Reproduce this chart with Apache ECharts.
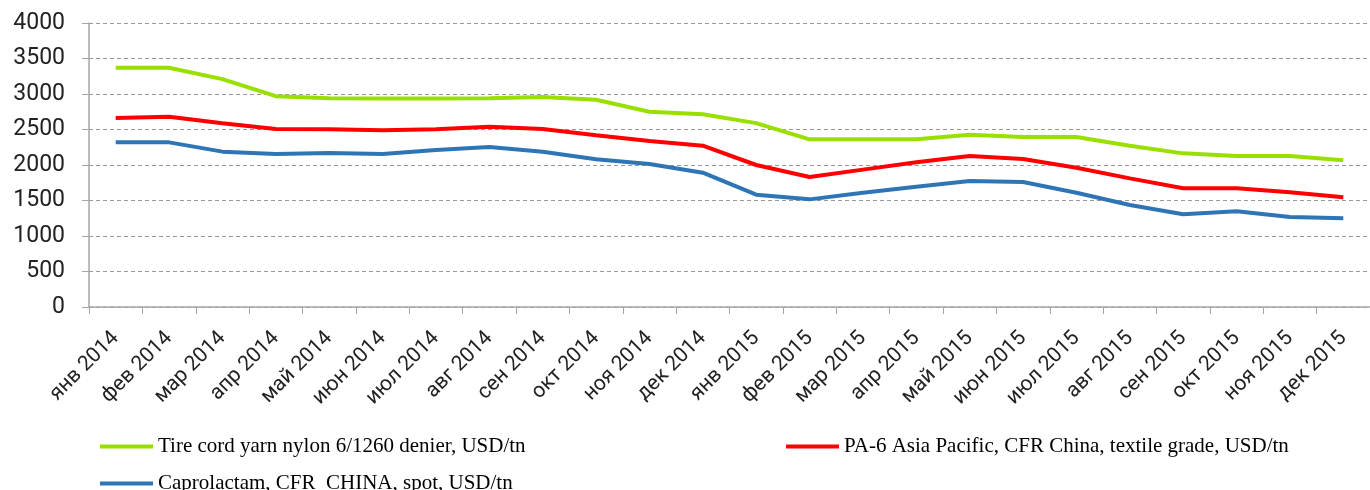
<!DOCTYPE html>
<html>
<head>
<meta charset="utf-8">
<script src="https://cdn.jsdelivr.net/npm/echarts@6/dist/echarts.min.js"></script>
<style>
    html, body {margin: 0; padding: 0; background: #fff;}
    #chart1 {width: 1370px; height: 490px;}
</style>
</head>
<body>
<div id="chart1"></div>
<script>
// месяцы
var months = ['янв 2014','фев 2014','мар 2014','апр 2014','май 2014','июн 2014','июл 2014','авг 2014',
    'сен 2014','окт 2014','ноя 2014','дек 2014','янв 2015','фев 2015','мар 2015','апр 2015',
    'май 2015','июн 2015','июл 2015','авг 2015','сен 2015','окт 2015','ноя 2015','дек 2015'];

var tireCord = [3370,3370,3210,2970,2940,2935,2935,2940,2958,2920,2750,2715,
    2590,2362,2362,2362,2427,2394,2394,2272,2164,2127,2127,2066];
var pa6 = [2662,2681,2587,2507,2502,2488,2502,2540,2507,2418,2338,2272,
    2000,1831,1935,2038,2127,2085,1962,1812,1672,1672,1615,1545];
var caprolactam = [2319,2319,2188,2155,2169,2155,2211,2254,2188,2080,2014,1892,
    1582,1516,1610,1695,1775,1761,1610,1437,1306,1348,1268,1249];

var names = ['Tire cord yarn nylon 6/1260 denier, USD/tn',
    'PA-6 Asia Pacific, CFR China, textile grade, USD/tn',
    'Caprolactam, CFR  CHINA, spot, USD/tn'];

var myChart1 = echarts.init(document.getElementById('chart1'));

var legendText = {fontFamily: '"Liberation Serif", serif', fontSize: 21, color: '#000'};

var option = {
    backgroundColor: '#fff',
    animation: false,
    grid: {left: 89, right: -6, top: 23, bottom: 183},
    legend: [
        {data: [names[0]], left: 95, top: 431, icon: 'rect', itemWidth: 53, itemHeight: 4, textStyle: legendText},
        {data: [names[1]], left: 781, top: 431, icon: 'rect', itemWidth: 53, itemHeight: 4, textStyle: legendText},
        {data: [names[2]], left: 95, top: 468, icon: 'rect', itemWidth: 53, itemHeight: 4, textStyle: legendText}
    ],
    xAxis: {
        type: 'category',
        data: months,
        boundaryGap: true,
        axisLine: {lineStyle: {color: '#a6a6a6', width: 1.5}},
        axisTick: {show: true, length: 7, interval: 0, lineStyle: {color: '#a6a6a6'}},
        axisLabel: {
            interval: 0,
            rotate: 45,
            margin: 28,
            fontFamily: 'Roboto, sans-serif',
            fontSize: 21,
            color: '#222'
        }
    },
    yAxis: {
        type: 'value',
        min: 0,
        max: 4000,
        interval: 500,
        axisLine: {show: true, lineStyle: {color: '#a6a6a6', width: 1.5}},
        axisTick: {show: true, length: 7, lineStyle: {color: '#a6a6a6'}},
        axisLabel: {
            margin: 24,
            fontFamily: 'Roboto, sans-serif',
            fontSize: 23,
            color: '#222',
            formatter: function (v) { return String(v); }
        },
        splitLine: {lineStyle: {color: '#999', type: [4, 3], width: 1}}
    },
    series: [
        {
            name: names[0], type: 'line', data: tireCord,
            showSymbol: false, symbol: 'none',
            lineStyle: {color: '#99e000', width: 4},
            itemStyle: {color: '#99e000'}
        },
        {
            name: names[1], type: 'line', data: pa6,
            showSymbol: false, symbol: 'none',
            lineStyle: {color: '#ff0000', width: 4},
            itemStyle: {color: '#ff0000'}
        },
        {
            name: names[2], type: 'line', data: caprolactam,
            showSymbol: false, symbol: 'none',
            lineStyle: {color: '#2e75b6', width: 4},
            itemStyle: {color: '#2e75b6'}
        }
    ]
};

myChart1.setOption(option);
</script>
</body>
</html>
